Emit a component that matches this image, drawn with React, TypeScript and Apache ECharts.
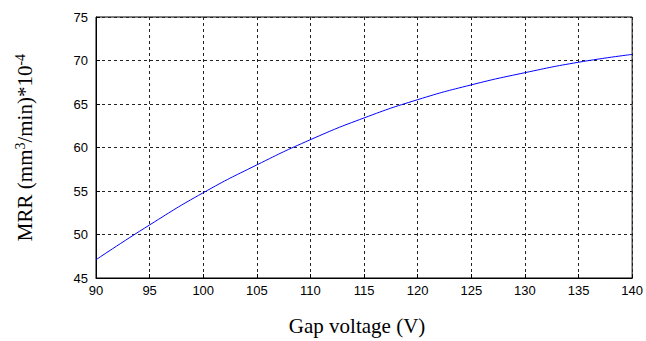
import React, { useEffect, useRef } from "react";
import * as echarts from "echarts";

const voltage = [90, 95, 100, 105, 110, 115, 120, 125, 130, 135, 140];
const mrr = [47.1, 51.1, 54.8, 58.0, 60.9, 63.4, 65.5, 67.2, 68.6, 69.8, 70.7];
const xTicks = [90, 95, 100, 105, 110, 115, 120, 125, 130, 135, 140];
const yTicks = [45, 50, 55, 60, 65, 70, 75];

export default function App() {
  const ref = useRef<HTMLDivElement>(null);
  useEffect(() => {
    if (!ref.current) return;
    const chart = echarts.init(ref.current, null, { renderer: "svg" });
    const tickFont = { fontFamily: "Liberation Sans, Arial, sans-serif", fontSize: 13, color: "#000" };
    const gridLine = { show: true, lineStyle: { color: "#222", type: [3, 3] as any, width: 1 } };
    const serif = "Liberation Serif, Times New Roman, serif";
    chart.setOption({
      animation: false,
      backgroundColor: "#fff",
      grid: { left: 96, right: 13, top: 17, bottom: 63, show: true, borderColor: "#000", borderWidth: 1, backgroundColor: "transparent" },
      xAxis: {
        type: "value",
        min: xTicks[0],
        max: xTicks[xTicks.length - 1],
        interval: 5,
        name: "Gap voltage (V)",
        nameLocation: "middle",
        nameGap: 37,
        nameTextStyle: { fontFamily: serif, fontSize: 21, color: "#000", padding: [0, 14, 0, 0] },
        axisLine: { show: true, onZero: false, lineStyle: { color: "#000", width: 1 } },
        axisTick: { show: true, inside: true, length: 4, lineStyle: { color: "#000" } },
        axisLabel: { ...tickFont, margin: 6 },
        splitLine: gridLine,
      },
      yAxis: {
        type: "value",
        min: yTicks[0],
        max: yTicks[yTicks.length - 1],
        interval: 5,
        name: "MRR (mm{sup|3}/min)*10{sup|-4}",
        nameLocation: "middle",
        nameGap: 59,
        nameTextStyle: {
          fontFamily: serif,
          fontSize: 21,
          color: "#000",
          rich: {
            sup: { fontFamily: serif, fontSize: 14, color: "#000", verticalAlign: "top", padding: [0, 0, 10, 0] },
          },
        },
        axisLine: { show: true, lineStyle: { color: "#000", width: 1 } },
        axisTick: { show: true, inside: true, length: 4, lineStyle: { color: "#000" } },
        axisLabel: { ...tickFont, margin: 8 },
        splitLine: gridLine,
      },
      series: [
        {
          type: "line",
          data: voltage.map((v, i) => [v, mrr[i]]),
          smooth: true,
          showSymbol: false,
          lineStyle: { color: "#0000ff", width: 1 },
        },
      ],
    });
    return () => chart.dispose();
  }, []);
  return <div ref={ref} style={{ width: 646, height: 341, position: "absolute", left: 0, top: 0 }} />;
}
